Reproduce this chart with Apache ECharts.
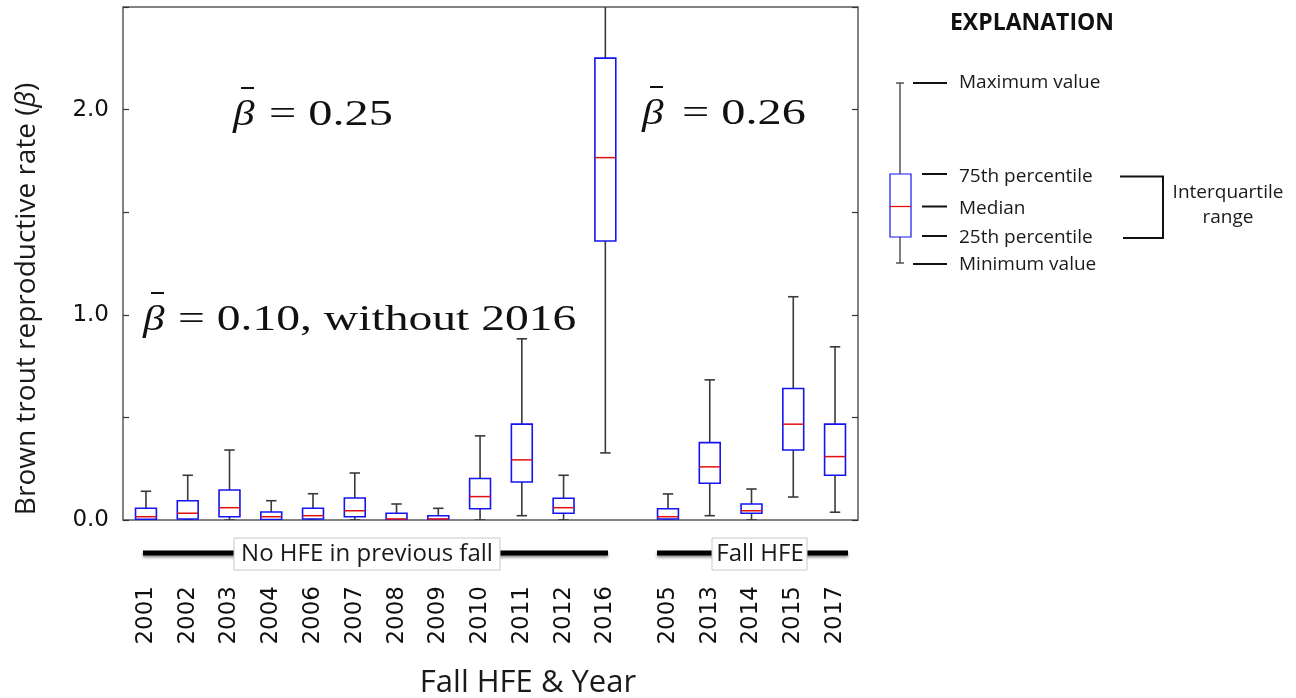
<!DOCTYPE html>
<html>
<head>
<meta charset="utf-8">
<script src="https://cdn.jsdelivr.net/npm/echarts@6/dist/echarts.min.js"></script>
<style>
  html, body { margin: 0; padding: 0; background: #ffffff; }
  #chart { width: 1296px; height: 698px; }
</style>
</head>
<body>
<div id="chart"></div>
<script>
// Years of each box, grouped: no HFE in previous fall, then fall HFE years
const years = ['2001', '2002', '2003', '2004', '2006', '2007', '2008', '2009', '2010', '2011', '2012', '2016',
               '2005', '2013', '2014', '2015', '2017'];
// Positions along the x axis (half-slot gap between the two groups)
const positions = [1, 2, 3, 4, 5, 6, 7, 8, 9, 10, 11, 12, 13.5, 14.5, 15.5, 16.5, 17.5];

// Box statistics of the brown trout reproductive rate (beta)
const minVals = [0.000, 0.002, 0.000, 0.000, 0.002, 0.000, 0.000, 0.000, 0.000, 0.021, 0.000, 0.327,
                 0.000, 0.021, 0.000, 0.112, 0.038];
const q1Vals  = [0.003, 0.005, 0.016, 0.002, 0.005, 0.016, 0.002, 0.002, 0.055, 0.185, 0.033, 1.360,
                 0.005, 0.179, 0.033, 0.341, 0.218];
const medVals = [0.016, 0.033, 0.060, 0.016, 0.021, 0.045, 0.005, 0.005, 0.114, 0.293, 0.060, 1.766,
                 0.016, 0.259, 0.045, 0.467, 0.309];
const q3Vals  = [0.057, 0.094, 0.146, 0.039, 0.057, 0.107, 0.033, 0.021, 0.202, 0.467, 0.106, 2.251,
                 0.055, 0.377, 0.078, 0.641, 0.467];
const maxVals = [0.140, 0.218, 0.341, 0.094, 0.128, 0.229, 0.078, 0.057, 0.410, 0.883, 0.218, 2.600,
                 0.127, 0.683, 0.151, 1.088, 0.844];

// Y axis tick labels (labels on whole numbers only)
const yTickLabels = { 0: '0.0', 1: '1.0', 2: '2.0' };

// Group means
const meanAll = '0.25';
const meanNo2016 = '0.10';
const meanFall = '0.26';

const boxData = positions.map((p, i) => [p, minVals[i], q1Vals[i], medVals[i], q3Vals[i], maxVals[i]]);

const WHISKER = '#3a3a3a';
const BOX = '#1414f0';
const MEDIAN = '#e01010';
const SANS = '"Open Sans", "Noto Sans", sans-serif';
const MATH = '"Liberation Serif", "DejaVu Serif", serif';

function renderBox(params, api) {
  const x = api.value(0);
  const pMin = api.coord([x, api.value(1)]);
  const pQ1 = api.coord([x, api.value(2)]);
  const pMed = api.coord([x, api.value(3)]);
  const pQ3 = api.coord([x, api.value(4)]);
  const pMax = api.coord([x, api.value(5)]);
  const cx = pMin[0];
  const boxW = api.size([0.5, 0])[0];
  const capW = api.size([0.25, 0])[0];
  const wStyle = { stroke: WHISKER, lineWidth: 1.6 };
  return {
    type: 'group',
    children: [
      { type: 'line', shape: { x1: cx, y1: pMax[1], x2: cx, y2: pQ3[1] }, style: wStyle },
      { type: 'line', shape: { x1: cx, y1: pQ1[1], x2: cx, y2: pMin[1] }, style: wStyle },
      { type: 'line', shape: { x1: cx - capW / 2, y1: pMax[1], x2: cx + capW / 2, y2: pMax[1] }, style: wStyle },
      { type: 'line', shape: { x1: cx - capW / 2, y1: pMin[1], x2: cx + capW / 2, y2: pMin[1] }, style: wStyle },
      { type: 'rect', shape: { x: cx - boxW / 2, y: pQ3[1], width: boxW, height: pQ1[1] - pQ3[1] },
        style: { fill: '#ffffff', stroke: BOX, lineWidth: 1.6 } },
      { type: 'line', shape: { x1: cx - boxW / 2, y1: pMed[1], x2: cx + boxW / 2, y2: pMed[1] },
        style: { stroke: MEDIAN, lineWidth: 1.5 } }
    ]
  };
}

// Mean annotation: italic beta with an overbar, then "= value"
function meanLabel(x, y, restText, restOffset, restScale) {
  return {
    type: 'group', x: x, y: y,
    children: [
      { type: 'text', x: 0, y: 0, scaleX: 1.2,
        style: { text: 'β', font: 'italic 36px ' + MATH, fill: '#111', verticalAlign: 'middle', align: 'left' } },
      { type: 'line', shape: { x1: 8, y1: -28, x2: 21, y2: -28 }, style: { stroke: '#111', lineWidth: 2 } },
      { type: 'text', x: restOffset, y: 0, scaleX: restScale,
        style: { text: restText, font: '35px ' + MATH, fill: '#111', verticalAlign: 'middle', align: 'left' } }
    ]
  };
}

function txt(x, y, text, font, align) {
  return {
    type: 'text', x: x, y: y,
    style: { text: text, font: font, fill: '#1a1a1a', align: align || 'left', verticalAlign: 'middle' }
  };
}
function seg(x1, y1, x2, y2, w, color) {
  return { type: 'line', shape: { x1, y1, x2, y2 }, style: { stroke: color || '#111', lineWidth: w || 2 } };
}

const graphics = [
  // axis titles
  { type: 'text', x: 27, y: 299, rotation: Math.PI / 2,
    style: { text: '{n|Brown trout reproductive rate (}{i|β}{n|)}', align: 'center', verticalAlign: 'middle',
      rich: { n: { font: '28px ' + SANS, fill: '#1a1a1a' }, i: { font: 'italic 28px ' + SANS, fill: '#1a1a1a' } } } },
  txt(528, 683, 'Fall HFE & Year', '31px ' + SANS, 'center'),

  // mean annotations
  meanLabel(233, 116, '= ' + meanAll, 36, 1.38),
  meanLabel(143, 321, '= ' + meanNo2016 + ', without 2016', 35, 1.36),
  meanLabel(642, 115, '= ' + meanFall, 40, 1.38),

  // group brackets under the axis
  { type: 'line', shape: { x1: 143, y1: 553, x2: 608, y2: 553 },
    style: { stroke: '#000', lineWidth: 5, shadowBlur: 3, shadowColor: 'rgba(0,0,0,0.45)', shadowOffsetY: 2 } },
  { type: 'line', shape: { x1: 657, y1: 553, x2: 848, y2: 553 },
    style: { stroke: '#000', lineWidth: 5, shadowBlur: 3, shadowColor: 'rgba(0,0,0,0.45)', shadowOffsetY: 2 } },
  { type: 'rect', shape: { x: 234, y: 538, width: 266, height: 32 }, style: { fill: '#fff', stroke: '#c8c8c8', lineWidth: 1 } },
  txt(367, 554, 'No HFE in previous fall', '24px ' + SANS, 'center'),
  { type: 'rect', shape: { x: 712, y: 538, width: 95, height: 32 }, style: { fill: '#fff', stroke: '#c8c8c8', lineWidth: 1 } },
  txt(760, 554, 'Fall HFE', '24px ' + SANS, 'center'),

  // explanation key
  { type: 'text', x: 1032, y: 23,
    style: { text: 'EXPLANATION', font: 'bold 23px ' + SANS, fill: '#111', align: 'center', verticalAlign: 'middle' } },
  seg(900, 83, 900, 174, 1.3, WHISKER),
  seg(900, 237, 900, 263, 1.3, WHISKER),
  seg(896, 83, 904, 83, 1.3, WHISKER),
  seg(896, 263, 904, 263, 1.3, WHISKER),
  { type: 'rect', shape: { x: 890, y: 174, width: 21, height: 63 }, style: { fill: '#fff', stroke: BOX, lineWidth: 1.2 } },
  seg(890, 206.5, 911, 206.5, 1.3, MEDIAN),
  seg(913, 83, 947, 83, 2),
  seg(922, 174, 947, 174, 2),
  seg(922, 206.5, 947, 206.5, 2),
  seg(922, 236, 947, 236, 2),
  seg(913, 264, 947, 264, 2),
  txt(959, 83, 'Maximum value', '19px ' + SANS),
  txt(959, 177, '75th percentile', '19px ' + SANS),
  txt(959, 209, 'Median', '19px ' + SANS),
  txt(959, 238, '25th percentile', '19px ' + SANS),
  txt(959, 265, 'Minimum value', '19px ' + SANS),
  { type: 'polyline', shape: { points: [[1120, 176.5], [1163, 176.5], [1163, 238], [1123, 238]] },
    style: { stroke: '#111', lineWidth: 2, fill: null } },
  txt(1228, 193, 'Interquartile', '19px ' + SANS, 'center'),
  txt(1228, 218, 'range', '19px ' + SANS, 'center')
];

const chart = echarts.init(document.getElementById('chart'), null, { renderer: 'canvas' });
chart.setOption({
  animation: false,
  backgroundColor: '#ffffff',
  grid: { left: 123, right: 438, top: 7, bottom: 178, show: true, borderColor: '#5a5a5a', borderWidth: 1.5 },
  xAxis: {
    type: 'value', min: 0.45, max: 18.05,
    axisLine: { show: false }, axisTick: { show: false }, splitLine: { show: false },
    axisLabel: {
      customValues: positions,
      formatter: v => { const k = positions.indexOf(v); return k >= 0 ? years[k] : ''; },
      rotate: 90, margin: 66, fontFamily: 'DejaVu Sans', fontSize: 23, color: '#111',
      padding: [6, 0, 0, 0]
    }
  },
  yAxis: [
    {
      type: 'value', min: 0, max: 2.5, interval: 0.5,
      axisLine: { show: false }, splitLine: { show: false },
      axisTick: { show: true, inside: true, length: 6, lineStyle: { color: '#333', width: 1.2 } },
      axisLabel: {
        formatter: v => (yTickLabels[v] !== undefined ? yTickLabels[v] : ''),
        margin: 14, fontFamily: 'DejaVu Sans', fontSize: 23, color: '#111'
      }
    },
    {
      type: 'value', position: 'right', min: 0, max: 2.5, interval: 0.5,
      axisLine: { show: false }, splitLine: { show: false }, axisLabel: { show: false },
      axisTick: { show: true, inside: true, length: 6, lineStyle: { color: '#333', width: 1.2 } }
    }
  ],
  series: [{
    type: 'custom',
    xAxisIndex: 0, yAxisIndex: 0,
    clip: true,
    renderItem: renderBox,
    encode: { x: 0, y: [1, 2, 3, 4, 5] },
    data: boxData,
    silent: true
  }],
  graphic: graphics
});
</script>
</body>
</html>
